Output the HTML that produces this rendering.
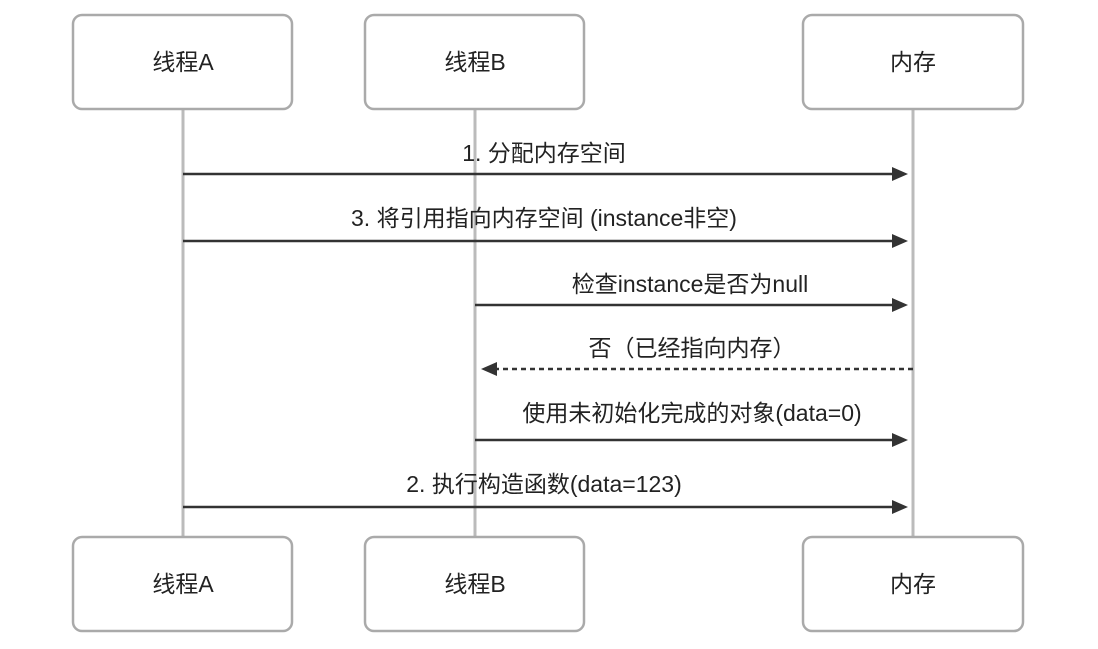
<!DOCTYPE html>
<html><head><meta charset="utf-8"><style>
html,body{margin:0;padding:0;background:#fff;}
svg{display:block;}
text{font-family:"Liberation Sans","Noto Sans CJK SC",sans-serif;font-size:23px;fill:#222;}
</style></head><body>
<svg width="1098" height="649" viewBox="0 0 1098 649">
<g stroke="#bbb" stroke-width="3">
<line x1="183" y1="109" x2="183" y2="536"/>
<line x1="475" y1="109" x2="475" y2="536"/>
<line x1="913" y1="109" x2="913" y2="536"/>
</g>
<g fill="#fff" stroke="#aaa" stroke-width="2.5">
<rect x="73" y="15" width="219" height="94" rx="9"/>
<rect x="365" y="15" width="219" height="94" rx="9"/>
<rect x="803" y="15" width="220" height="94" rx="9"/>
<rect x="73" y="537" width="219" height="94" rx="9"/>
<rect x="365" y="537" width="219" height="94" rx="9"/>
<rect x="803" y="537" width="220" height="94" rx="9"/>
</g>
<g text-anchor="middle">
<text x="183" y="70">线程A</text><text x="475" y="70">线程B</text><text x="913" y="70">内存</text>
<text x="183" y="592">线程A</text><text x="475" y="592">线程B</text><text x="913" y="592">内存</text>
</g>
<g stroke="#333" stroke-width="2.5" fill="none">
<path d="M183,174 H893" /><path d="M183,241 H893"/><path d="M475,305 H893"/>
<path d="M913,369 H497" stroke-dasharray="5,4"/>
<path d="M475,440 H893"/><path d="M183,507 H893"/>
</g>
<g fill="#333">
<path d="M908,174 l-16,-7 v14z"/><path d="M908,241 l-16,-7 v14z"/><path d="M908,305 l-16,-7 v14z"/>
<path d="M481,369 l16,-7 v14z"/>
<path d="M908,440 l-16,-7 v14z"/><path d="M908,507 l-16,-7 v14z"/>
</g>
<g text-anchor="middle">
<text x="544" y="161">1. 分配内存空间</text>
<text x="544" y="226">3. 将引用指向内存空间 (instance非空)</text>
<text x="690" y="292">检查instance是否为null</text>
<text x="692" y="356">否（已经指向内存）</text>
<text x="692" y="421">使用未初始化完成的对象(data=0)</text>
<text x="544" y="492">2. 执行构造函数(data=123)</text>
</g>
</svg>
</body></html>
